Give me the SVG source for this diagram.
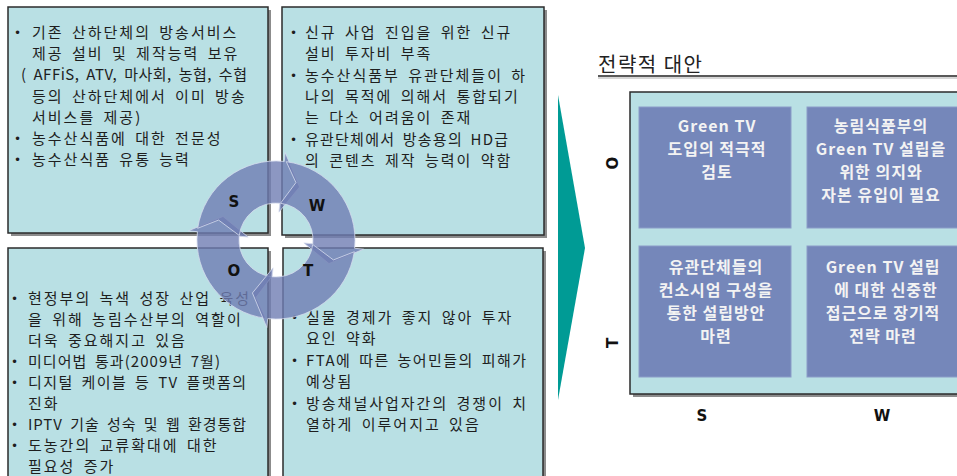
<svg xmlns="http://www.w3.org/2000/svg" width="957" height="476" viewBox="0 0 957 476">
<style>
.bg{fill:#ffffff}
.box{fill:#B9E0E4;stroke:#2b2b2b;stroke-width:1.5}
.shadow{fill:#8c8c8c}
.t{font-family:"Noto Sans CJK KR","Noto Sans",sans-serif;font-size:15px;fill:#1e1e1e;letter-spacing:2px;word-spacing:3px}
.b{font-family:"DejaVu Sans",sans-serif;font-size:12px;fill:#1e1e1e}
.lbl{font-family:"DejaVu Sans","Liberation Sans",sans-serif;font-weight:bold;font-size:15px;fill:#111;text-anchor:middle}
.cell{fill:#7587BA;stroke:#8C9CC8;stroke-width:1}
.ct{font-family:"Noto Sans CJK KR","Noto Sans",sans-serif;font-weight:bold;font-size:16px;fill:#F3F3F3;text-anchor:middle;letter-spacing:1px}
.arc{fill:#6F7DB3;fill-opacity:0.8;stroke:#D6DCEE;stroke-opacity:0.8;stroke-width:1}
.title{font-family:"Noto Sans CJK KR","Noto Sans",sans-serif;font-size:20px;fill:#222;letter-spacing:1.5px}
</style>
<rect class="bg" x="0" y="0" width="957" height="476"/>

<g id="S">
<rect class="shadow" x="11" y="10" width="260" height="226"/>
<rect class="box" x="8" y="7" width="260" height="226"/>
<text class="b" x="14" y="37">•</text>
<text class="t" x="32" y="38">기존 산하단체의 방송서비스</text>
<text class="t" x="32" y="59">제공 설비 및 제작능력 보유</text>
<text class="t" x="21" y="80" textLength="228" lengthAdjust="spacing">( AFFiS, ATV, 마사회, 농협, 수협</text>
<text class="t" x="32" y="102">등의 산하단체에서 이미 방송</text>
<text class="t" x="32" y="123">서비스를 제공)</text>
<text class="b" x="14" y="143">•</text>
<text class="t" x="32" y="144">농수산식품에 대한 전문성</text>
<text class="b" x="14" y="164">•</text>
<text class="t" x="32" y="165">농수산식품 유통 능력</text>
</g>

<g id="W">
<rect class="shadow" x="285" y="10" width="262" height="228"/>
<rect class="box" x="282" y="7" width="262" height="228"/>
<text class="b" x="290" y="37">•</text>
<text class="t" x="305" y="38">신규 사업 진입을 위한 신규</text>
<text class="t" x="305" y="59">설비 투자비 부족</text>
<text class="b" x="290" y="80">•</text>
<text class="t" x="305" y="81">농수산식품부 유관단체들이 하</text>
<text class="t" x="305" y="102">나의 목적에 의해서 통합되기</text>
<text class="t" x="305" y="123">는 다소 어려움이 존재</text>
<text class="b" x="290" y="144">•</text>
<text class="t" x="305" y="145" textLength="205" lengthAdjust="spacing">유관단체에서 방송용의 HD급</text>
<text class="t" x="305" y="166">의 콘텐츠 제작 능력이 약함</text>
</g>

<g id="O">
<rect class="shadow" x="11" y="251" width="260" height="240"/>
<rect class="box" x="8" y="248" width="260" height="240"/>
<text class="b" x="11" y="303">•</text>
<text class="t" x="28" y="304">현정부의 녹색 성장 산업 육성</text>
<text class="t" x="28" y="325">을  위해 농림수산부의 역할이</text>
<text class="t" x="28" y="346">더욱 중요해지고 있음</text>
<text class="b" x="11" y="366">•</text>
<text class="t" x="28" y="367" textLength="194" lengthAdjust="spacing">미디어법 통과(2009년 7월)</text>
<text class="b" x="11" y="387">•</text>
<text class="t" x="28" y="388" textLength="220" lengthAdjust="spacing">디지털 케이블 등 TV 플랫폼의</text>
<text class="t" x="28" y="409">진화</text>
<text class="b" x="11" y="429">•</text>
<text class="t" x="28" y="430" textLength="220" lengthAdjust="spacing">IPTV 기술 성숙 및 웹 환경통합</text>
<text class="b" x="11" y="450">•</text>
<text class="t" x="28" y="451">도농간의 교류확대에 대한</text>
<text class="t" x="28" y="472">필요성 증가</text>
</g>

<g id="T">
<rect class="shadow" x="286" y="251" width="260" height="240"/>
<rect class="box" x="283" y="248" width="260" height="240"/>
<text class="b" x="291" y="322">•</text>
<text class="t" x="306" y="323">실물 경제가 좋지 않아 투자</text>
<text class="t" x="306" y="344">요인 약화</text>
<text class="b" x="291" y="365">•</text>
<text class="t" x="306" y="366" textLength="222" lengthAdjust="spacing">FTA에 따른 농어민들의 피해가</text>
<text class="t" x="306" y="387">예상됨</text>
<text class="b" x="291" y="408">•</text>
<text class="t" x="306" y="409">방송채널사업자간의 경쟁이 치</text>
<text class="t" x="306" y="430">열하게 이루어지고 있음</text>
</g>

<g id="connectors">
<path class="arc" d="M265.71,318.33 A79,79 0 0 1 197.43,231.74 L188.48,230.80 L223.02,216.41 L248.15,237.07 L239.20,236.13 A37,37 0 0 0 271.49,276.72 L256.07,297.42 Z"/>
<path class="arc" d="M197.67,228.28 A79,79 0 0 1 284.26,161.43 L285.20,152.48 L299.59,187.02 L278.93,212.15 L279.87,203.20 A37,37 0 0 0 239.28,235.49 L218.58,220.07 Z"/>
<path class="arc" d="M286.29,161.67 A79,79 0 0 1 354.57,248.26 L363.52,249.20 L328.98,263.59 L303.85,242.93 L312.80,243.87 A37,37 0 0 0 280.51,203.28 L295.93,182.58 Z"/>
<path class="arc" d="M354.33,251.72 A79,79 0 0 1 267.74,318.57 L266.80,327.52 L252.41,292.98 L273.07,267.85 L272.13,276.80 A37,37 0 0 0 312.72,244.51 L333.42,259.93 Z"/>
<polygon points="558,95 585,248 558,400" fill="#009B95"/>
</g>

<g id="swot-labels">
<text class="lbl" x="234" y="207">S</text>
<text class="lbl" x="317" y="211">W</text>
<text class="lbl" x="234" y="276">O</text>
<text class="lbl" x="308" y="276">T</text>
</g>

<g id="title">
<text class="title" x="598" y="72">전략적 대안</text>
<line x1="598" y1="78" x2="957" y2="78" stroke="#c8c8c8" stroke-width="1.5"/>
<line x1="598" y1="76" x2="957" y2="76" stroke="#222" stroke-width="1.5"/>
</g>

<g id="matrix">
<rect class="shadow" x="633" y="95" width="340" height="302"/>
<rect class="box" x="630" y="92" width="340" height="302"/>
<text class="lbl" x="0" y="0" transform="translate(618,163) rotate(-90)">O</text>
<text class="lbl" x="0" y="0" transform="translate(618,343) rotate(-90)">T</text>
<text class="lbl" x="702" y="421">S</text>
<text class="lbl" x="882" y="421">W</text>
</g>

<g id="SO">
<rect class="cell" x="639" y="107" width="152" height="121"/>
<text class="ct" x="717" y="132">Green TV</text>
<text class="ct" x="717" y="155">도입의 적극적</text>
<text class="ct" x="717" y="178">검토</text>
</g>

<g id="WO">
<rect class="cell" x="807" y="107" width="160" height="121"/>
<text class="ct" x="881" y="132">농림식품부의</text>
<text class="ct" x="881" y="155">Green TV 설립을</text>
<text class="ct" x="881" y="178">위한 의지와</text>
<text class="ct" x="881" y="201">자본 유입이 필요</text>
</g>

<g id="ST">
<rect class="cell" x="639" y="246" width="152" height="131"/>
<text class="ct" x="716" y="273">유관단체들의</text>
<text class="ct" x="716" y="296">컨소시엄 구성을</text>
<text class="ct" x="716" y="319">통한  설립방안</text>
<text class="ct" x="716" y="342">마련</text>
</g>

<g id="WT">
<rect class="cell" x="807" y="246" width="160" height="131"/>
<text class="ct" x="883" y="273">Green TV 설립</text>
<text class="ct" x="886" y="296">에 대한 신중한</text>
<text class="ct" x="883" y="319">접근으로 장기적</text>
<text class="ct" x="883" y="342">전략 마련</text>
</g>
</svg>
